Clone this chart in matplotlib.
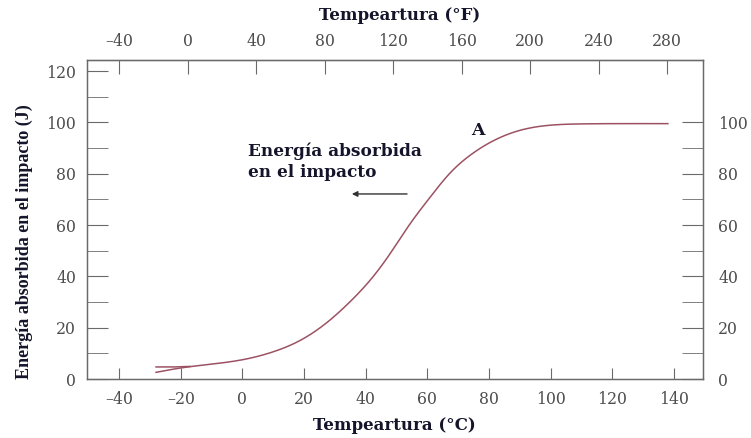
import numpy as np
import matplotlib
matplotlib.use("Agg")
import matplotlib.pyplot as plt

# Data
temp_c = [-28, -20, -10, 0, 10, 19, 27, 35, 42, 48, 54, 61, 67, 74, 82, 91, 99, 110, 120, 138]
energy_j = [2.6, 4.3, 5.8, 7.5, 10.6, 15.2, 21.6, 30.2, 39.3, 49.0, 59.8, 71.0, 79.8, 87.3, 93.2, 97.2, 98.8, 99.4, 99.5, 99.5]
stub_c = [-28, -22, -17]
stub_j = [4.7, 4.7, 4.9]
x_ticks_c = [-40, -20, 0, 20, 40, 60, 80, 100, 120, 140]
x_ticks_f = [-40, 0, 40, 80, 120, 160, 200, 240, 280]
y_ticks_left = [0, 20, 40, 60, 80, 100, 120]
y_ticks_right = [0, 20, 40, 60, 80, 100]


def natural_spline(x, y, xn):
    x = np.asarray(x, float); y = np.asarray(y, float)
    n = len(x); h = np.diff(x)
    A = np.zeros((n, n)); b = np.zeros(n)
    A[0, 0] = A[-1, -1] = 1
    for i in range(1, n - 1):
        A[i, i - 1] = h[i - 1]; A[i, i] = 2 * (h[i - 1] + h[i]); A[i, i + 1] = h[i]
        b[i] = 6 * ((y[i + 1] - y[i]) / h[i] - (y[i] - y[i - 1]) / h[i - 1])
    M = np.linalg.solve(A, b)
    idx = np.clip(np.searchsorted(x, xn) - 1, 0, n - 2)
    xi, xi1, hi = x[idx], x[idx + 1], h[idx]
    return (M[idx] * (xi1 - xn) ** 3 / (6 * hi) + M[idx + 1] * (xn - xi) ** 3 / (6 * hi)
            + (y[idx] / hi - M[idx] * hi / 6) * (xi1 - xn)
            + (y[idx + 1] / hi - M[idx + 1] * hi / 6) * (xn - xi))


serif = ["DejaVu Serif"]
tick_color = "#4d4d4d"
spine_color = "#6a6a6a"
text_color = "#14142a"
curve_color = "#9c5263"
tick_fs = 11.3

fig = plt.figure(figsize=(7.51, 4.38), dpi=100)
ax = fig.add_axes([87 / 751, 1 - 379 / 438, (703 - 87) / 751, (379 - 60) / 438])
ax.set_xlim(-50.4, 149.4)
ax.set_ylim(0, 124.3)

xs = np.linspace(temp_c[0], temp_c[-1], 500)
ax.plot(xs, natural_spline(temp_c, energy_j, xs), color=curve_color, lw=1.1)
ax.plot(stub_c, stub_j, color=curve_color, lw=1.1)

for s in ax.spines.values():
    s.set_color(spine_color)
    s.set_linewidth(1.0)

ax.set_xticks(x_ticks_c)
ax.set_xticklabels([str(v) if v >= 0 else "\u2013" + str(-v) for v in x_ticks_c])
ax.set_yticks(y_ticks_left)
ax.set_yticks(np.arange(10, 120, 20), minor=True)
ax.tick_params(axis="x", direction="in", length=8, color=spine_color, pad=9,
               labelsize=tick_fs, labelcolor=tick_color)
ax.tick_params(axis="y", which="both", direction="in", length=15, color=spine_color, pad=8,
               labelsize=tick_fs, labelcolor=tick_color)
for lab in ax.get_xticklabels() + ax.get_yticklabels():
    lab.set_family(serif)

# right axis
axr = ax.twinx()
axr.set_ylim(ax.get_ylim())
axr.set_yticks(y_ticks_right)
axr.set_yticks(np.arange(10, 100, 20), minor=True)
axr.tick_params(axis="y", which="both", direction="in", length=15, color=spine_color, pad=11,
                labelsize=tick_fs, labelcolor=tick_color)
for lab in axr.get_yticklabels():
    lab.set_family(serif)
for s in axr.spines.values():
    s.set_color(spine_color)

# top axis in Fahrenheit
top = ax.secondary_xaxis("top", functions=(lambda c: c * 9 / 5 + 32, lambda f: (f - 32) * 5 / 9))
top.set_xticks(x_ticks_f)
top.set_xticklabels([str(v) if v >= 0 else "\u2013" + str(-v) for v in x_ticks_f])
top.tick_params(axis="x", direction="in", length=10, color=spine_color, pad=7,
                labelsize=tick_fs, labelcolor=tick_color)
for lab in top.get_xticklabels():
    lab.set_family(serif)
top.spines["top"].set_color(spine_color)

# labels
fig.text(400 / 751, 1 - 16 / 438, "Tempeartura (\u00b0F)", ha="center", va="center",
         fontsize=12, fontweight="bold", family=serif, color=text_color)
fig.text(394 / 751, 1 - 425 / 438, "Tempeartura (\u00b0C)", ha="center", va="center",
         fontsize=12, fontweight="bold", family=serif, color=text_color)
fig.text(24 / 751, 1 - 242 / 438, "Energ\u00eda absorbida en el impacto (J)", ha="center", va="center",
         rotation=90, fontsize=13, fontweight="bold", family=["Liberation Serif"], color=text_color)

ax.text(1.8, 88.6, "Energ\u00eda absorbida", ha="left", va="center", fontsize=12.2,
        fontweight="bold", family=serif, color=text_color)
ax.text(1.8, 80.4, "en el impacto", ha="left", va="center", fontsize=12.2,
        fontweight="bold", family=serif, color=text_color)
ax.text(76.4, 97.0, "A", ha="center", va="center", fontsize=12.5,
        fontweight="bold", family=serif, color=text_color)
ax.annotate("", xy=(35.5, 72.1), xytext=(53.4, 72.1),
            arrowprops=dict(arrowstyle="-|>", color="#333333", lw=1.0,
                            mutation_scale=8, shrinkA=0, shrinkB=0))

fig.savefig("out.png", dpi=100, facecolor="white")
